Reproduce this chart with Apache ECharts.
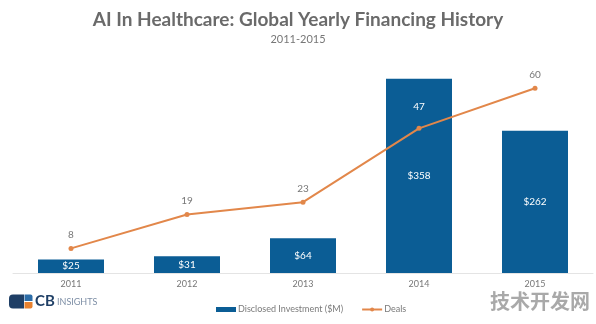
<!DOCTYPE html>
<html>
<head>
<meta charset="utf-8">
<script src="https://cdn.jsdelivr.net/npm/echarts@6/dist/echarts.min.js"></script>
<style>
  html, body { margin: 0; padding: 0; background: #fff; }
  #chart { width: 596px; height: 324px; }
</style>
</head>
<body>
<div id="chart"></div>
<script>
// Yearly AI-in-healthcare financing: disclosed investment ($M) and deal count
const years = ['2011', '2012', '2013', '2014', '2015'];
const investment = [25, 31, 64, 358, 262];
const deals = [8, 19, 23, 47, 60];

const BLUE = '#0b5d95';
const ORANGE = '#e2874a';
const FONT = 'Lato, "Open Sans", sans-serif';

const chart = echarts.init(document.getElementById('chart'), null, { renderer: 'canvas' });

chart.setOption({
  backgroundColor: '#ffffff',
  animation: false,
  textStyle: { fontFamily: FONT },
  title: {
    text: 'AI In Healthcare: Global Yearly Financing History',
    subtext: '2011-2015',
    left: 'center',
    top: 5,
    itemGap: 5,
    textStyle: { fontFamily: FONT, fontSize: 19, fontWeight: 'bold', color: '#6a6a6a' },
    subtextStyle: { fontFamily: FONT, fontSize: 11, color: '#777' }
  },
  legend: {
    left: 211,
    top: 300,
    itemWidth: 20,
    itemHeight: 5,
    itemGap: 18,
    textStyle: { fontFamily: FONT, fontSize: 9, color: '#7a7a7a', padding: [0, 0, 0, -3] },
    data: [
      { name: 'Disclosed Investment ($M)', icon: 'rect' },
      { name: 'Deals' }
    ]
  },
  grid: { left: 13, right: 3, top: 56, bottom: 51, containLabel: false },
  xAxis: {
    type: 'category',
    data: years,
    axisLine: { show: true, lineStyle: { color: '#e4e4e4', width: 1 } },
    axisTick: { show: false },
    axisLabel: { color: '#777', fontSize: 9, margin: 7, fontFamily: FONT }
  },
  yAxis: [
    { type: 'value', min: 0, max: 400, show: false, splitLine: { show: false } },
    { type: 'value', min: 0, max: 70.5, show: false, splitLine: { show: false } }
  ],
  series: [
    {
      name: 'Disclosed Investment ($M)',
      type: 'bar',
      data: investment,
      barWidth: 66,
      itemStyle: { color: BLUE },
      label: {
        show: true,
        position: 'inside',
        color: '#fff',
        fontSize: 10,
        fontFamily: FONT,
        formatter: p => '$' + p.value
      },
      z: 1
    },
    {
      name: 'Deals',
      type: 'line',
      yAxisIndex: 1,
      data: deals.map((v, i) => i === 3
        ? { value: v, label: { color: '#ffffff', distance: 14 } }
        : v),
      symbol: 'circle',
      symbolSize: 5,
      lineStyle: { color: ORANGE, width: 2 },
      itemStyle: { color: ORANGE },
      label: {
        show: true,
        position: 'top',
        distance: 6,
        color: '#777',
        fontSize: 10,
        fontFamily: FONT
      },
      z: 3
    }
  ],
  graphic: [
    {
      // CB Insights mark
      type: 'group',
      left: 9,
      top: 294,
      children: [
        { type: 'rect', shape: { x: 0, y: 0, width: 15, height: 14, r: [4, 0, 0, 4] }, style: { fill: '#1f3f66' } },
        { type: 'rect', shape: { x: 15.5, y: 0, width: 8, height: 6.5, r: [0, 2, 0, 0] }, style: { fill: '#2c6da8' } },
        { type: 'rect', shape: { x: 15.5, y: 7.5, width: 8, height: 6.5, r: [0, 0, 2, 0] }, style: { fill: '#e8812f' } },
        { type: 'text', x: 26, y: 7, style: { text: 'CB', fill: '#1f3f66', font: 'bold 15px ' + FONT, textVerticalAlign: 'middle' } },
        { type: 'text', x: 48, y: 8, style: { text: 'INSIGHTS', fill: '#7e8fa6', font: '9px ' + FONT, textVerticalAlign: 'middle' } }
      ]
    },
    {
      type: 'text',
      right: 6,
      top: 291,
      style: { text: '技术开发网', fill: '#9a9a9a', font: 'bold 20px "Noto Sans CJK SC", sans-serif', opacity: 0.85 }
    }
  ]
});
</script>
</body>
</html>
